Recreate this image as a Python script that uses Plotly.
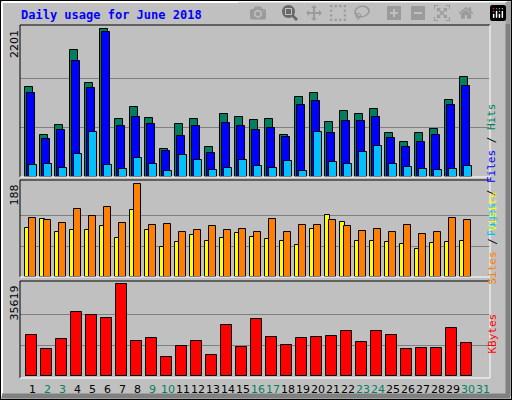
import plotly.graph_objects as go

days = list(range(1, 31))
hits = [1335,632,767,1887,1394,2201,857,1036,871,423,782,857,453,931,886,842,857,632,1185,1245,812,976,931,1006,647,528,647,707,1140,1484]
files = [1245,558,692,1723,1320,2156,752,886,782,393,603,752,364,797,752,692,722,588,1066,1125,647,827,827,886,573,453,528,632,1066,1350]
pages = [184,199,139,349,662,184,125,289,199,95,334,259,110,139,259,169,139,244,95,662,229,199,378,468,199,154,125,110,125,169]
sites = [100,117,92,96,96,103,80,135,96,60,70,86,74,80,90,82,78,74,64,98,125,111,74,74,70,66,56,68,70,74]
visits = [119,115,109,137,123,141,109,188,105,107,92,96,103,96,98,92,117,92,105,105,115,103,94,98,92,105,88,92,119,115]
kbytes = [15730,10270,14170,24700,23530,22360,35619,13390,14560,7150,11440,13390,7930,19630,11050,21970,14950,11830,14560,14950,15340,17290,13000,17290,15730,10270,10660,10660,18460,12610]
day_labels = [str(d) for d in range(1, 32)]
weekend = {2,3,9,10,16,17,23,24,30,31}
max_hits, max_visits, max_kb = 2201, 188, 35619

W, H = 512, 400
def px(x): return x / W
def py(y): return 1 - y / H

fig = go.Figure()
line = dict(color="black", width=1)
def bar(y, color, off, wid, ax):
    fig.add_trace(go.Bar(x=days, y=y, marker=dict(color=color, line=line), offset=off, width=wid,
                         xaxis="x", yaxis=ax, showlegend=False, hoverinfo="skip"))
bar(hits, "#008060", -0.4, 0.5, "y")
bar(files, "#0000ff", -0.29, 0.53, "y")
bar(pages, "#00c0ff", -0.13, 0.5, "y")
bar(sites, "#ffff00", -0.4, 0.3, "y2")
bar(visits, "#ff8000", -0.13, 0.48, "y2")
bar(kbytes, "#ff0000", -0.33, 0.71, "y3")

xr = [1 - 11/15, 1 - 11/15 + 470/15]
ycommon = dict(showticklabels=False, gridcolor="#808080", gridwidth=1, zeroline=False, showline=False, ticks="")
fig.update_layout(
    width=W, height=H, margin=dict(l=0, r=0, t=0, b=0),
    paper_bgcolor="#c0c0c0", plot_bgcolor="#c0c0c0", bargap=0, barmode="overlay",
    xaxis=dict(range=xr, domain=[px(20), px(490)], showticklabels=False, showgrid=False, zeroline=False, anchor="y3"),
    yaxis=dict(domain=[py(177), py(25)], range=[0, max_hits*152/148], tickvals=[max_hits/3, 2*max_hits/3], **ycommon),
    yaxis2=dict(domain=[py(277), py(180)], range=[0, max_visits*97/92.7], tickvals=[max_visits/3, 2*max_visits/3], **ycommon),
    yaxis3=dict(domain=[py(378), py(281)], range=[-900, 36910], tickvals=[max_kb/3, 2*max_kb/3], **ycommon),
)

shapes = []
def seg(x0, y0, x1, y1, c, w=1):
    shapes.append(dict(type="line", xref="paper", yref="paper", x0=px(x0), y0=py(y0), x1=px(x1), y1=py(y1), line=dict(color=c, width=w)))
for top, bot in [(25, 177), (180, 277), (281, 378)]:
    seg(20, top, 490, top, "black"); seg(20, top, 20, bot, "black")
    seg(20, bot, 490, bot, "white"); seg(490, top, 490, bot, "white")
seg(2, 2, 507, 2, "white", 2); seg(2, 2, 2, 396, "white", 2)
seg(508, 2, 508, 396, "#808080", 5); seg(2, 396, 510, 396, "#808080", 5)
shapes.append(dict(type="rect", xref="paper", yref="paper", x0=0, y0=0, x1=1, y1=1, line=dict(color="black", width=2)))
fig.update_layout(shapes=shapes)

mono = "DejaVu Sans Mono"
ann = [dict(text="<b>Daily usage for June 2018</b>", x=px(19), y=py(15), xref="paper", yref="paper",
            xanchor="left", yanchor="middle", showarrow=False, font=dict(family=mono, size=12, color="#0000ff"))]
for val, ytop in [(max_hits, 28), (max_visits, 183), (max_kb, 284)]:
    ann.append(dict(text=str(val), x=px(14), y=py(ytop), xref="paper", yref="paper", textangle=-90,
                    xanchor="center", yanchor="top", showarrow=False, font=dict(family="DejaVu Sans", size=11, color="black")))
for d in range(1, 32):
    ann.append(dict(text=day_labels[d-1], x=d + 0.13, y=py(389), xref="x", yref="paper", showarrow=False,
                    xanchor="center", yanchor="middle",
                    font=dict(family="DejaVu Sans", size=11, color="#008060" if d in weekend else "black")))
ann.append(dict(text='<span style="color:#00c0ff">Pages</span> / <span style="color:#0000ff">Files</span> / <span style="color:#008060">Hits</span>',
                x=px(500), y=py(101), xref="paper", yref="paper", textangle=-90, showarrow=False,
                font=dict(family=mono, size=11, color="black")))
ann.append(dict(text='<span style="color:#ff8000">Sites</span> / <span style="color:#ffff00">Visits</span>',
                x=px(500), y=py(238), xref="paper", yref="paper", textangle=-90, showarrow=False,
                font=dict(family=mono, size=11, color="black")))
ann.append(dict(text="KBytes", x=px(500), y=py(356), xref="paper", yref="paper", textangle=-90, showarrow=False,
                font=dict(family=mono, size=11, color="#ff0000")))
fig.update_layout(annotations=ann)
fig.write_html("out.html", post_script="document.body.style.margin='0';document.body.style.overflow='hidden';")
